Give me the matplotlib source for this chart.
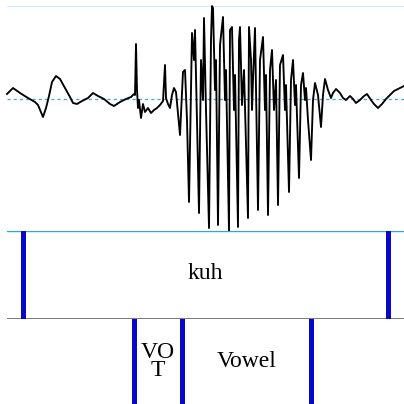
import numpy as np
import matplotlib
matplotlib.use('Agg')
import matplotlib.pyplot as plt

# ── waveform samples (time in ms, amplitude in arbitrary units) ──────────────
t_ms = [0, 6, 13, 21, 28, 31, 36, 39, 42, 45, 49, 53, 58, 63, 66, 70, 75, 81,
        86, 91, 97, 103, 107, 113, 119, 124, 127, 128, 129, 130, 131, 132, 134,
        136, 138, 141, 144, 147, 150, 153, 156, 158, 159, 161, 163, 165, 167,
        169, 173, 176, 178, 180, 182, 185, 187, 188, 190, 192, 194, 196, 197,
        199, 202, 204, 205, 206, 208, 209, 211, 213, 216, 218, 219, 222, 223,
        225, 227, 228, 231, 232, 233, 235, 237, 241, 242, 244, 245, 246, 248,
        251, 253, 256, 258, 259, 261, 263, 265, 267, 269, 271, 273, 276, 278,
        279, 282, 284, 286, 288, 289, 292, 294, 296, 298, 299, 301, 304, 306,
        308, 311, 314, 316, 318, 321, 324, 326, 329, 333, 336, 339, 343, 346,
        349, 353, 357, 360, 364, 367, 371, 375, 379, 383, 387, 391, 395, 397]
amp = [5, 11, 6, 1, -3, -6, -18, -9, 3, 17, 23, 20, 11, 2, -4, -5, -2, 1,
       6, 3, 0, -5, -7, -3, 0, 2, 5, 4, 55, 9, -9, -1, -19,
       -5, -13, -9, -14, -11, -9, -6, -2, 34, 1, -5, -9, 4, 11,
       7, -36, 27, 29, -21, -103, 66, 39, 69, -21, -114, 39, -1, 81,
       -11, -129, 59, 93, 91, 9, 39, -126, 54, 82, -1, 29, -132, 69,
       72, -11, 24, -128, 59, 72, -6, 29, -119, 72, 39, -11, 19, 71,
       -111, 39, 62, -11, 24, -116, 29, 49, -11, 19, -106, 34, 44, -11,
       14, -93, 19, 39, -6, 14, -79, 14, 26, -1, 11, -21, -61, -1,
       16, 4, -28, 4, 20, 9, 1, 6, 10, 6, 1, -1, 3, 0,
       -4, -1, 3, 5, -1, -5, -9, -5, 0, 4, 8, 10, 12, 13]
amp_top, amp_bottom = 93, -132

# ── text grid tiers ──────────────────────────────────────────────────────────
word_bounds = [16, 381]
word_labels = ['kuh']
phone_bounds = [127, 175, 304]
phone_labels = ['VO\nT', 'Vowel']
t_end = 397

BLUE = '#0808c8'

fig = plt.figure(figsize=(4.04, 4.04), dpi=100)
L, W = 7 / 404, 397 / 404
ax_w = fig.add_axes([L, 173 / 404, W, 225 / 404])
ax_1 = fig.add_axes([L, 85 / 404, W, 88 / 404])
ax_2 = fig.add_axes([L, 0, W, 85 / 404])

# ── waveform ─────────────────────────────────────────────────────────────────
ax_w.plot(t_ms, amp, color='black', lw=1.35, clip_on=False, zorder=3)
ax_w.axhline(0, color='#3fa9d6', lw=0.9, ls=(0, (2.5, 2.5)))
ax_w.axhline(amp_top, color='#bfe6f7', lw=1.2)
ax_w.set_xlim(0, t_end)
ax_w.set_ylim(amp_bottom, amp_top)
ax_w.axis('off')

# ── tiers ────────────────────────────────────────────────────────────────────
for a in (ax_1, ax_2):
    a.set_xlim(0, t_end)
    a.set_ylim(0, 1)
    a.axis('off')

ax_1.axhline(1, color='#333333', lw=1.2, zorder=1)
ax_1.axhline(0.997, color='#2aa8e0', lw=1.0, zorder=2)
ax_1.axhline(0, color='#555555', lw=1.1)

for b in word_bounds:
    ax_1.axvline(b, color=BLUE, lw=3.6)
for b in phone_bounds:
    ax_2.axvline(b, color=BLUE, lw=3.6)

font = dict(family='Liberation Serif', fontsize=17, ha='center', va='center')
for i, lab in enumerate(word_labels):
    ax_1.text((word_bounds[i] + word_bounds[i + 1]) / 2, 0.52, lab, **font)
for i, lab in enumerate(phone_labels):
    ax_2.text((phone_bounds[i] + phone_bounds[i + 1]) / 2, 0.5, lab,
              linespacing=0.85, **font)

plt.savefig('out.png', dpi=100)
